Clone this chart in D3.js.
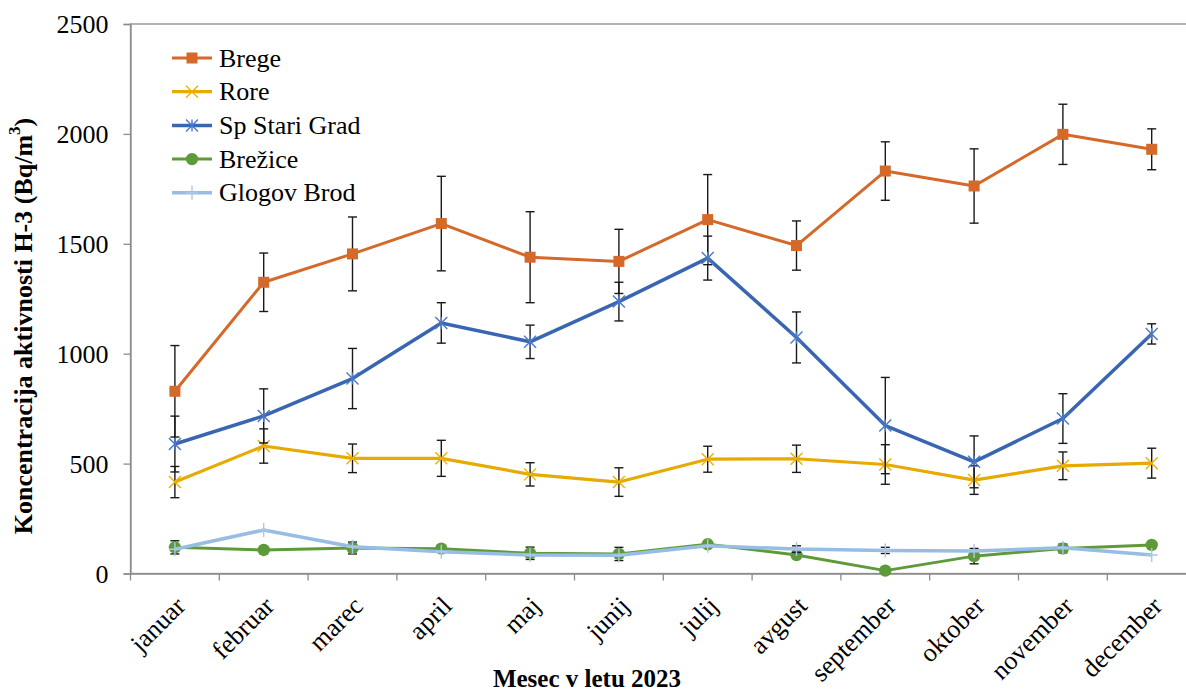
<!DOCTYPE html>
<html><head><meta charset="utf-8">
<script src="https://cdn.jsdelivr.net/npm/d3@7"></script>
<style>body{margin:0;background:#fff}svg{display:block}svg text{font-family:"Liberation Serif",serif;fill:#000}</style>
</head><body><svg id="c" width="1186" height="693"></svg>
<script>
const months = ["januar","februar","marec","april","maj","junij","julij","avgust","september","oktober","november","december"];
const yTicks = [0,500,1000,1500,2000,2500];
const brege = [829,1325,1454,1592,1439,1420,1610,1492,1831,1763,1998,1930];
const bregeErr = [208,133,168,215,207,146,205,112,133,169,137,93];
const rore = [416,580,524,524,451,416,520,522,496,425,490,502];
const roreErr = [71,78,65,82,53,65,59,62,90,65,63,68];
const stariGrad = [589,717,887,1140,1054,1237,1435,1074,673,508,705,1090];
const stariGradErr = [127,123,137,92,76,88,100,116,219,118,113,46];
const brezice = [119,107,116,113,92,89,133,84,13,79,114,130];
const breziceErr = [30,0,27,0,28,30,12,0,0,35,20,0];
const glogov = [110,198,122,99,84,83,126,111,105,102,117,84];
const glogovErr = [0,0,0,0,0,0,0,15,14,0,0,0];
const seriesNames = ["Brege","Rore","Sp Stari Grad","Brežice","Glogov Brod"];

const FONT = '"Liberation Serif", serif';
const series = [
  {name:seriesNames[0], v:brege, e:bregeErr, line:"#D4692A", mk:"#D4692A", type:"square", lw:3},
  {name:seriesNames[1], v:rore, e:roreErr, line:"#E6AA00", mk:"#EDB100", type:"x", lw:3.2},
  {name:seriesNames[2], v:stariGrad, e:stariGradErr, line:"#3A66B1", mk:"#4A78C8", type:"star", lw:3.5},
  {name:seriesNames[3], v:brezice, e:breziceErr, line:"#5F9A3A", mk:"#5F9A3A", type:"circle", lw:3},
  {name:seriesNames[4], v:glogov, e:glogovErr, line:"#97BDE4", mk:"#A9C8EA", type:"plus", lw:3.5}
];

const svg = d3.select("#c");
const pLeft = 130.5, bandW = 88.8, pTop = 24, pBottom = 573.5;
const x = d3.scaleBand().domain(months).range([pLeft, pLeft + bandW*months.length]);
const y = d3.scaleLinear().domain([0,2500]).range([pBottom, pTop]);
const cx = m => x(m) + x.bandwidth()/2;

svg.append("rect").attr("x",pLeft).attr("y",pTop).attr("width",bandW*12+10).attr("height",pBottom-pTop)
  .attr("fill","none").attr("stroke","#8c8c8c").attr("stroke-width",1.3);

const ya = svg.append("g").attr("transform",`translate(${pLeft},0)`)
  .call(d3.axisLeft(y).tickValues(yTicks).tickSize(7).tickPadding(15).tickFormat(d3.format("d")));
ya.select(".domain").attr("stroke","#8c8c8c").attr("stroke-width",1.3);
ya.selectAll(".tick line").attr("stroke","#8c8c8c").attr("stroke-width",1.3);
ya.selectAll(".tick text").style("font-family",FONT).style("font-size","26px").attr("dy","0.34em");

const xa = svg.append("g").attr("transform",`translate(0,${pBottom})`)
  .call(d3.axisBottom(x).tickSize(0).tickFormat(""));
xa.select(".domain").attr("stroke","#8c8c8c").attr("stroke-width",1.3);
const xt = svg.append("g");
d3.range(months.length+1).forEach(i=>{
  const xx = pLeft + i*bandW;
  xt.append("line").attr("x1",xx).attr("x2",xx).attr("y1",pBottom).attr("y2",pBottom+7).attr("stroke","#8c8c8c").attr("stroke-width",1.3);
});
svg.append("g").selectAll("text").data(months).join("text")
  .attr("transform", d=>`translate(${cx(d)+12},${pBottom+34}) rotate(-45)`)
  .attr("text-anchor","end").style("font-family",FONT).style("font-size","26px").text(d=>d);

function marker(g, type, col, px, py){
  const s = 6;
  if(type==="square") g.append("rect").attr("x",px-5.5).attr("y",py-5.5).attr("width",11).attr("height",11).attr("fill",col);
  else if(type==="circle") g.append("circle").attr("cx",px).attr("cy",py).attr("r",6.2).attr("fill",col);
  else {
    const p = d3.path();
    if(type==="x"||type==="star"){ p.moveTo(px-s,py-s); p.lineTo(px+s,py+s); p.moveTo(px-s,py+s); p.lineTo(px+s,py-s); }
    if(type==="star"){ p.moveTo(px,py-s); p.lineTo(px,py+s); }
    if(type==="plus"){ p.moveTo(px-s,py); p.lineTo(px+s,py); p.moveTo(px,py-s-1); p.lineTo(px,py+s+1); }
    g.append("path").attr("d",p.toString()).attr("stroke",col).attr("stroke-width",1.4).attr("fill","none");
  }
}

const line = d3.line().x((d,i)=>cx(months[i])).y(d=>y(d));
series.forEach(s=>{
  const g = svg.append("g");
  s.v.forEach((v,i)=>{
    const e = s.e[i]; if(!e) return;
    const px = cx(months[i]);
    const eg = g.append("g").attr("stroke","#1a1a1a").attr("stroke-width",1.4);
    eg.append("line").attr("x1",px).attr("x2",px).attr("y1",y(v-e)).attr("y2",y(v+e));
    eg.append("line").attr("x1",px-4.5).attr("x2",px+4.5).attr("y1",y(v-e)).attr("y2",y(v-e));
    eg.append("line").attr("x1",px-4.5).attr("x2",px+4.5).attr("y1",y(v+e)).attr("y2",y(v+e));
  });
  g.append("path").attr("d",line(s.v)).attr("fill","none").attr("stroke",s.line).attr("stroke-width",s.lw).attr("stroke-linejoin","round");
  s.v.forEach((v,i)=>marker(g,s.type,s.mk,cx(months[i]),y(v)));
});

const lg = svg.append("g");
series.forEach((s,i)=>{
  const ly = 58 + i*33.7;
  lg.append("line").attr("x1",172).attr("x2",212).attr("y1",ly).attr("y2",ly).attr("stroke",s.line).attr("stroke-width",s.lw);
  marker(lg,s.type,s.mk,192,ly);
  lg.append("text").attr("x",219).attr("y",ly).attr("dy","0.33em").style("font-family",FONT).style("font-size","26px").text(s.name);
});

svg.append("text").attr("x",587).attr("y",687).attr("text-anchor","middle").style("font-family",FONT).style("font-size","25px").attr("font-weight","bold").text("Mesec v letu 2023");
const yt = svg.append("text").attr("transform","translate(32,326) rotate(-90)").attr("text-anchor","middle").style("font-family",FONT).style("font-size","26px").attr("font-weight","bold");
yt.append("tspan").text("Koncentracija aktivnosti H-3 (Bq/m");
yt.append("tspan").style("font-size","17px").attr("dy","-0.7em").text("3");
yt.append("tspan").attr("dy","0.45em").text(")");
</script></body></html>
